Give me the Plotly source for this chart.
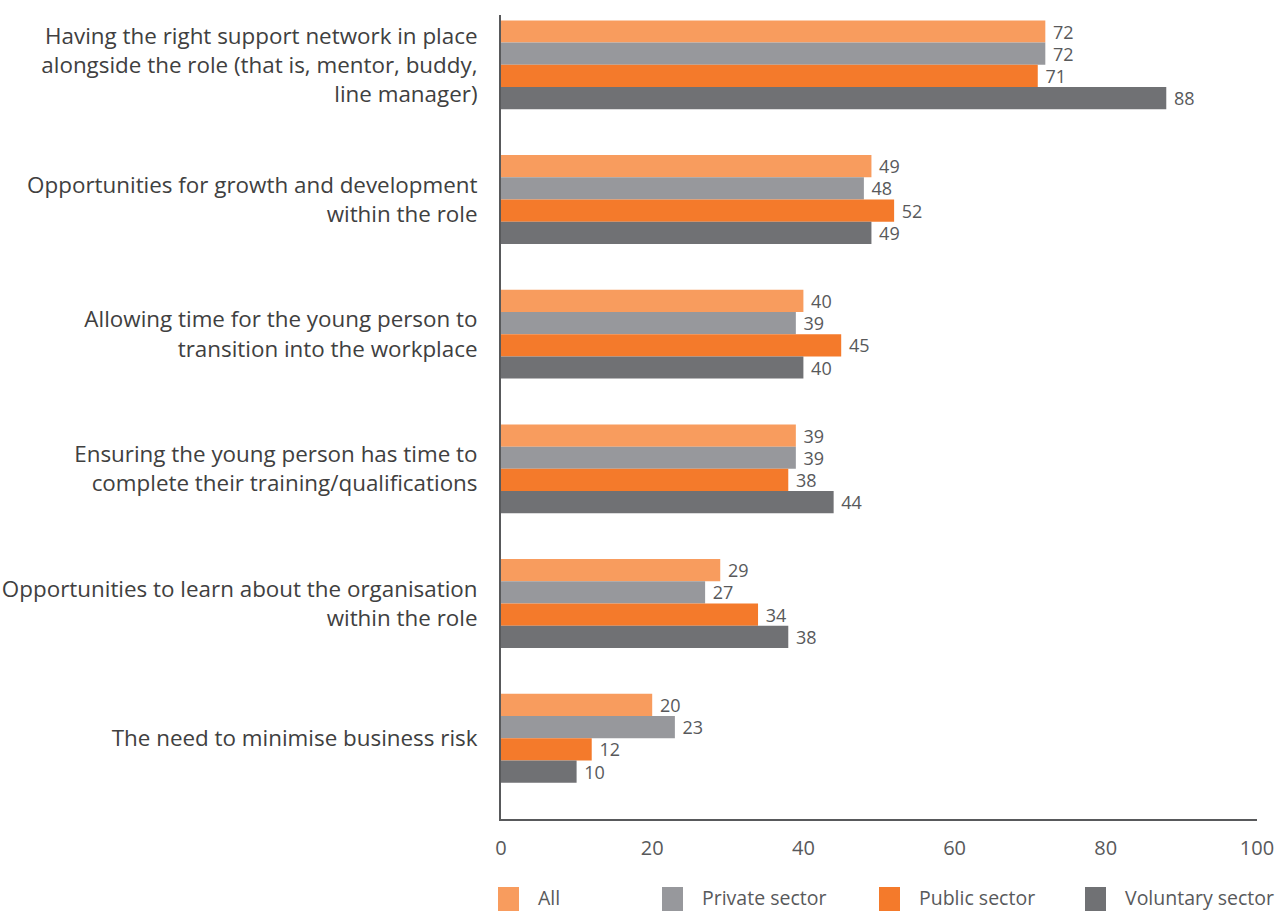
import plotly.graph_objects as go

categories = [
    "Having the right support network in place<br>alongside the role (that is, mentor, buddy,<br>line manager)",
    "Opportunities for growth and development<br>within the role",
    "Allowing time for the young person to<br>transition into the workplace",
    "Ensuring the young person has time to<br>complete their training/qualifications",
    "Opportunities to learn about the organisation<br>within the role",
    "The need to minimise business risk",
]
series_names = ["All", "Private sector", "Public sector", "Voluntary sector"]
all_vals = [72, 49, 40, 39, 29, 20]
private_vals = [72, 48, 39, 39, 27, 23]
public_vals = [71, 52, 45, 38, 34, 12]
voluntary_vals = [88, 49, 40, 44, 38, 10]
colors = ["#F89C5E", "#97989C", "#F47A2B", "#707174"]
x_ticks = [0, 20, 40, 60, 80, 100]

W, H = 1277, 911
ML, MR, MT = 501, 20, 15
MB = H - 819
pw = W - ML - MR
ph = H - MT - MB

def px_to_paper_x(px):
    return (px - ML) / pw

def px_to_paper_y(py):
    return (MT + ph - py) / ph

fig = go.Figure()
for name, vals, col in zip(series_names, [all_vals, private_vals, public_vals, voluntary_vals], colors):
    fig.add_trace(go.Bar(
        y=list(range(len(categories))), x=vals, name=name, orientation="h",
        marker=dict(color=col, line=dict(width=0)),
        text=[" " + str(v) for v in vals], textposition="outside",
        constraintext="none",
        textfont=dict(size=18, color="#58595B", family="Open Sans"),
        cliponaxis=False, showlegend=False,
    ))

# custom legend
legend_x_px = [498, 662, 879, 1085]
for name, col, lx in zip(series_names, colors, legend_x_px):
    fig.add_shape(type="rect", xref="paper", yref="paper",
                  x0=px_to_paper_x(lx), x1=px_to_paper_x(lx + 21),
                  y0=px_to_paper_y(912), y1=px_to_paper_y(887),
                  fillcolor=col, line=dict(width=0))
    fig.add_annotation(xref="paper", yref="paper", x=px_to_paper_x(lx + 38), y=px_to_paper_y(897),
                       text=name, showarrow=False, xanchor="left", yanchor="middle",
                       font=dict(size=19.5, color="#58595B", family="Open Sans"))

fig.update_layout(
    width=W, height=H,
    margin=dict(l=ML, r=MR, t=MT, b=MB, pad=0, autoexpand=False),
    paper_bgcolor="white", plot_bgcolor="white",
    barmode="group", bargap=0.34, bargroupgap=0,
    showlegend=False,
    font=dict(family="Open Sans", color="#404040"),
)
fig.update_xaxes(range=[0, 100], tickvals=x_ticks, showgrid=False, zeroline=False, automargin=False,
                 showline=True, linecolor="#58595B", linewidth=2,
                 ticks="outside", ticklen=10, tickcolor="rgba(0,0,0,0)",
                 tickfont=dict(size=20, color="#58595B"))
fig.update_yaxes(range=[5.6, -0.37], tickvals=list(range(len(categories))), ticktext=categories,
                 showgrid=False, zeroline=False, showline=True, linecolor="#58595B", linewidth=2,
                 automargin=False,
                 ticks="outside", ticklen=17, tickcolor="rgba(0,0,0,0)",
                 tickfont=dict(size=22.4, color="#404040"))

fig.write_html(
    "out.html",
    config={"displayModeBar": False},
    post_script="document.body.style.margin='0';document.documentElement.style.overflow='hidden';document.body.style.overflow='hidden';",
)
